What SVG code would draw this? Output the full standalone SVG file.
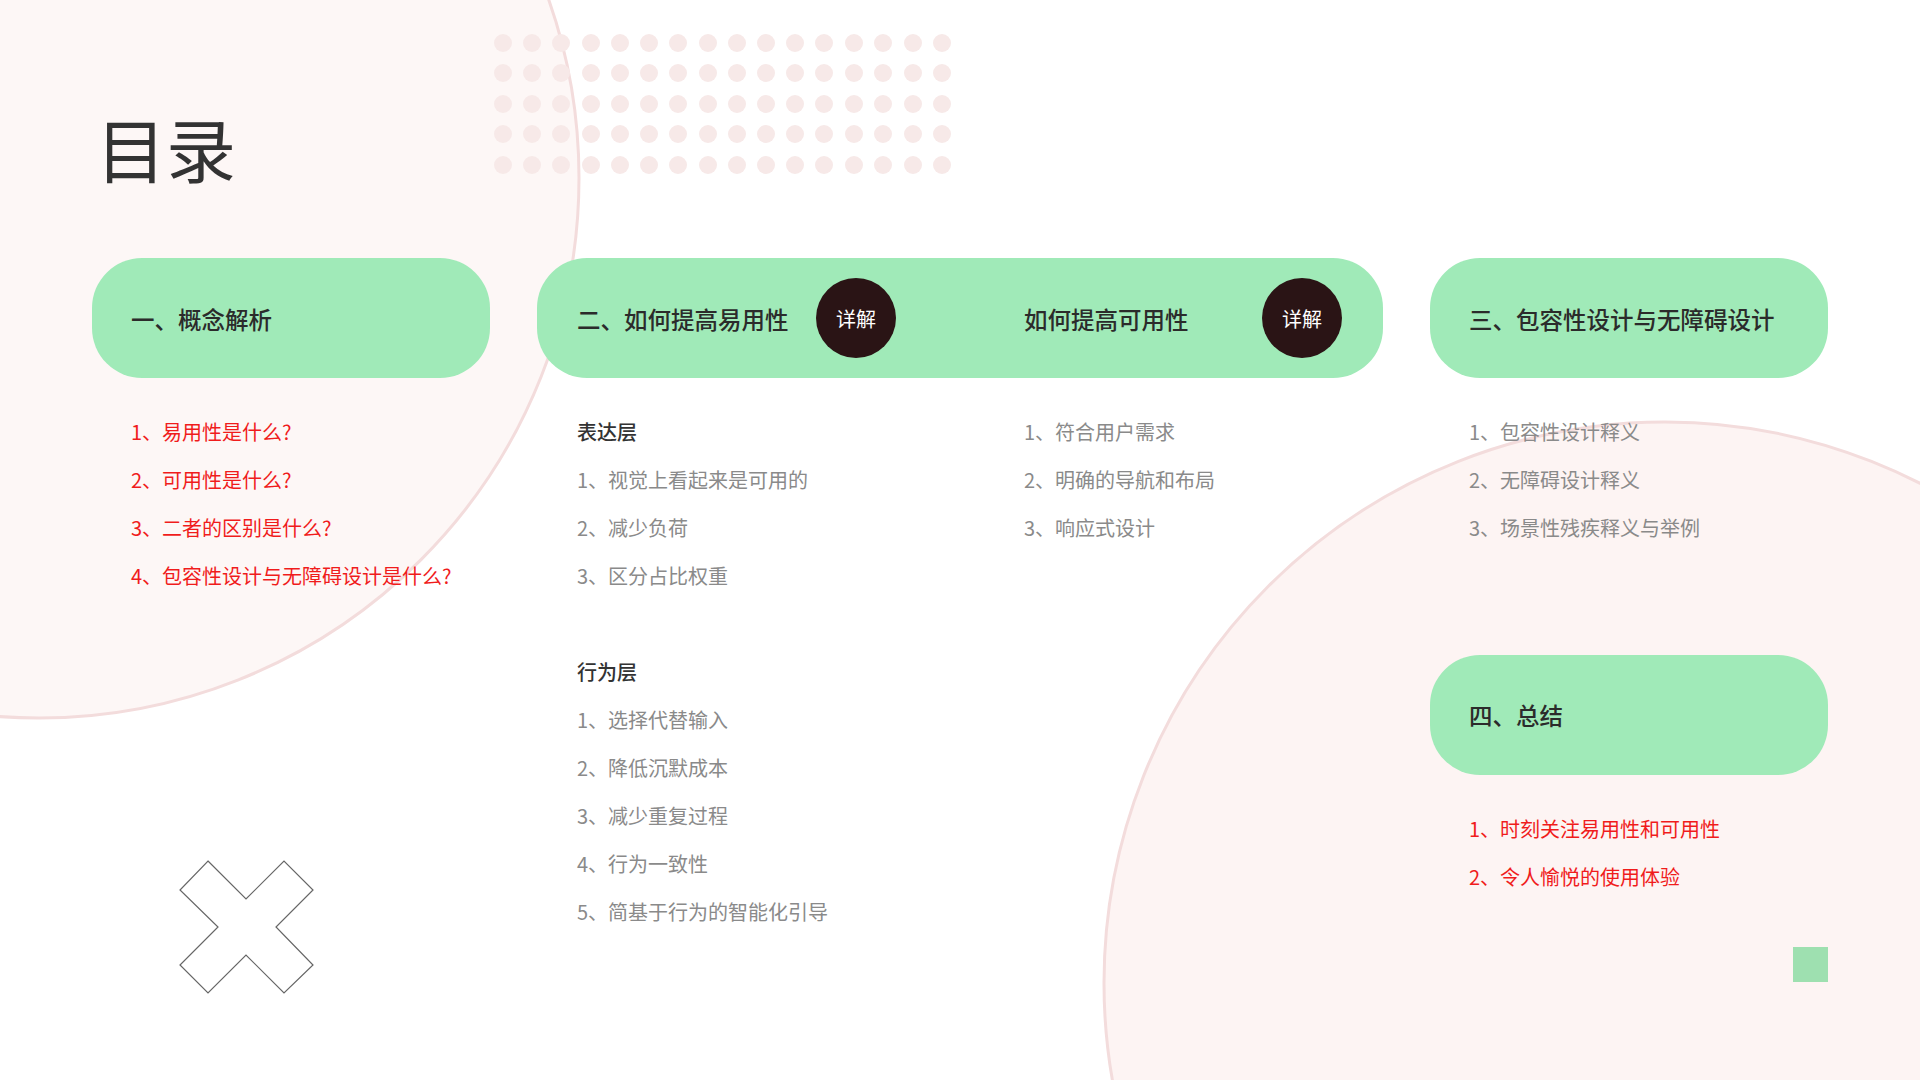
<svg xmlns="http://www.w3.org/2000/svg" width="1920" height="1080" viewBox="0 0 1920 1080">
<style>
text{font-family:"Noto Sans CJK SC","Noto Sans",sans-serif;}
.pill{fill:#a0eab8;}
.h{font-size:23.5px;font-weight:500;fill:#2b2b2b;dominant-baseline:central;}
.r{font-size:20px;fill:#f01c1c;dominant-baseline:central;}
.g{font-size:20px;fill:#8a8a8a;dominant-baseline:central;}
.s{font-size:20px;fill:#333;font-weight:500;dominant-baseline:central;}
.d{fill:#f7e9e8;}
.btn{fill:#2a1415;}
.bt{font-size:20px;fill:#fff;text-anchor:middle;dominant-baseline:central;}
</style>
<rect width="1920" height="1080" fill="#fff"/>
<g id="bg">
<circle cx="39" cy="178" r="540" fill="#fdf7f6" stroke="#f3dcdc" stroke-width="3"/>
<circle cx="1665" cy="983" r="561" fill="#fdf4f3" stroke="#f3dcdc" stroke-width="3"/>
<g id="dots">
<g transform="translate(0,43)"><circle class="d" cx="503" r="9"/><circle class="d" cx="532" r="9"/><circle class="d" cx="561" r="9"/><circle class="d" cx="591" r="9"/><circle class="d" cx="620" r="9"/><circle class="d" cx="649" r="9"/><circle class="d" cx="678" r="9"/><circle class="d" cx="708" r="9"/><circle class="d" cx="737" r="9"/><circle class="d" cx="766" r="9"/><circle class="d" cx="795" r="9"/><circle class="d" cx="824" r="9"/><circle class="d" cx="854" r="9"/><circle class="d" cx="883" r="9"/><circle class="d" cx="913" r="9"/><circle class="d" cx="942" r="9"/></g>
<g transform="translate(0,73)"><circle class="d" cx="503" r="9"/><circle class="d" cx="532" r="9"/><circle class="d" cx="561" r="9"/><circle class="d" cx="591" r="9"/><circle class="d" cx="620" r="9"/><circle class="d" cx="649" r="9"/><circle class="d" cx="678" r="9"/><circle class="d" cx="708" r="9"/><circle class="d" cx="737" r="9"/><circle class="d" cx="766" r="9"/><circle class="d" cx="795" r="9"/><circle class="d" cx="824" r="9"/><circle class="d" cx="854" r="9"/><circle class="d" cx="883" r="9"/><circle class="d" cx="913" r="9"/><circle class="d" cx="942" r="9"/></g>
<g transform="translate(0,104)"><circle class="d" cx="503" r="9"/><circle class="d" cx="532" r="9"/><circle class="d" cx="561" r="9"/><circle class="d" cx="591" r="9"/><circle class="d" cx="620" r="9"/><circle class="d" cx="649" r="9"/><circle class="d" cx="678" r="9"/><circle class="d" cx="708" r="9"/><circle class="d" cx="737" r="9"/><circle class="d" cx="766" r="9"/><circle class="d" cx="795" r="9"/><circle class="d" cx="824" r="9"/><circle class="d" cx="854" r="9"/><circle class="d" cx="883" r="9"/><circle class="d" cx="913" r="9"/><circle class="d" cx="942" r="9"/></g>
<g transform="translate(0,134)"><circle class="d" cx="503" r="9"/><circle class="d" cx="532" r="9"/><circle class="d" cx="561" r="9"/><circle class="d" cx="591" r="9"/><circle class="d" cx="620" r="9"/><circle class="d" cx="649" r="9"/><circle class="d" cx="678" r="9"/><circle class="d" cx="708" r="9"/><circle class="d" cx="737" r="9"/><circle class="d" cx="766" r="9"/><circle class="d" cx="795" r="9"/><circle class="d" cx="824" r="9"/><circle class="d" cx="854" r="9"/><circle class="d" cx="883" r="9"/><circle class="d" cx="913" r="9"/><circle class="d" cx="942" r="9"/></g>
<g transform="translate(0,165)"><circle class="d" cx="503" r="9"/><circle class="d" cx="532" r="9"/><circle class="d" cx="561" r="9"/><circle class="d" cx="591" r="9"/><circle class="d" cx="620" r="9"/><circle class="d" cx="649" r="9"/><circle class="d" cx="678" r="9"/><circle class="d" cx="708" r="9"/><circle class="d" cx="737" r="9"/><circle class="d" cx="766" r="9"/><circle class="d" cx="795" r="9"/><circle class="d" cx="824" r="9"/><circle class="d" cx="854" r="9"/><circle class="d" cx="883" r="9"/><circle class="d" cx="913" r="9"/><circle class="d" cx="942" r="9"/></g>
</g>
<polygon points="208,861 246,899 284,861 313,890 276,927 313,965 284,993 246,955 208,993 180,965 218,927 180,890" fill="#fff" stroke="#666" stroke-width="1.2"/>
<rect x="1793" y="947" width="35" height="35" fill="#9ee0b0"/>
</g>
<text x="96" y="147" font-size="70" fill="#333" dominant-baseline="central">目录</text>
<g id="n1">
<rect class="pill" x="92" y="258" width="398" height="120" rx="50"/>
<text class="h" x="131" y="319">一、概念解析</text>
<text class="r" x="131" y="431">1、易用性是什么?</text>
<text class="r" x="131" y="479">2、可用性是什么?</text>
<text class="r" x="131" y="527">3、二者的区别是什么?</text>
<text class="r" x="131" y="575">4、包容性设计与无障碍设计是什么?</text>
</g>
<g id="n2">
<rect class="pill" x="537" y="258" width="846" height="120" rx="50"/>
<text class="h" x="577" y="319">二、如何提高易用性</text>
<circle class="btn" cx="856" cy="318" r="40"/><text class="bt" x="856" y="318">详解</text>
<text class="h" x="1024" y="319">如何提高可用性</text>
<circle class="btn" cx="1302" cy="318" r="40"/><text class="bt" x="1302" y="318">详解</text>
<text class="s" x="577" y="431">表达层</text>
<text class="g" x="577" y="479">1、视觉上看起来是可用的</text>
<text class="g" x="577" y="527">2、减少负荷</text>
<text class="g" x="577" y="575">3、区分占比权重</text>
<text class="s" x="577" y="671">行为层</text>
<text class="g" x="577" y="719">1、选择代替输入</text>
<text class="g" x="577" y="767">2、降低沉默成本</text>
<text class="g" x="577" y="815">3、减少重复过程</text>
<text class="g" x="577" y="863">4、行为一致性</text>
<text class="g" x="577" y="911">5、简基于行为的智能化引导</text>
<text class="g" x="1024" y="431">1、符合用户需求</text>
<text class="g" x="1024" y="479">2、明确的导航和布局</text>
<text class="g" x="1024" y="527">3、响应式设计</text>
</g>
<g id="n3">
<rect class="pill" x="1430" y="258" width="398" height="120" rx="50"/>
<text class="h" x="1469" y="319">三、包容性设计与无障碍设计</text>
<text class="g" x="1469" y="431">1、包容性设计释义</text>
<text class="g" x="1469" y="479">2、无障碍设计释义</text>
<text class="g" x="1469" y="527">3、场景性残疾释义与举例</text>
</g>
<g id="n4">
<rect class="pill" x="1430" y="655" width="398" height="120" rx="50"/>
<text class="h" x="1469" y="715">四、总结</text>
<text class="r" x="1469" y="828">1、时刻关注易用性和可用性</text>
<text class="r" x="1469" y="876">2、令人愉悦的使用体验</text>
</g>
<g id="connectors"/>
</svg>
